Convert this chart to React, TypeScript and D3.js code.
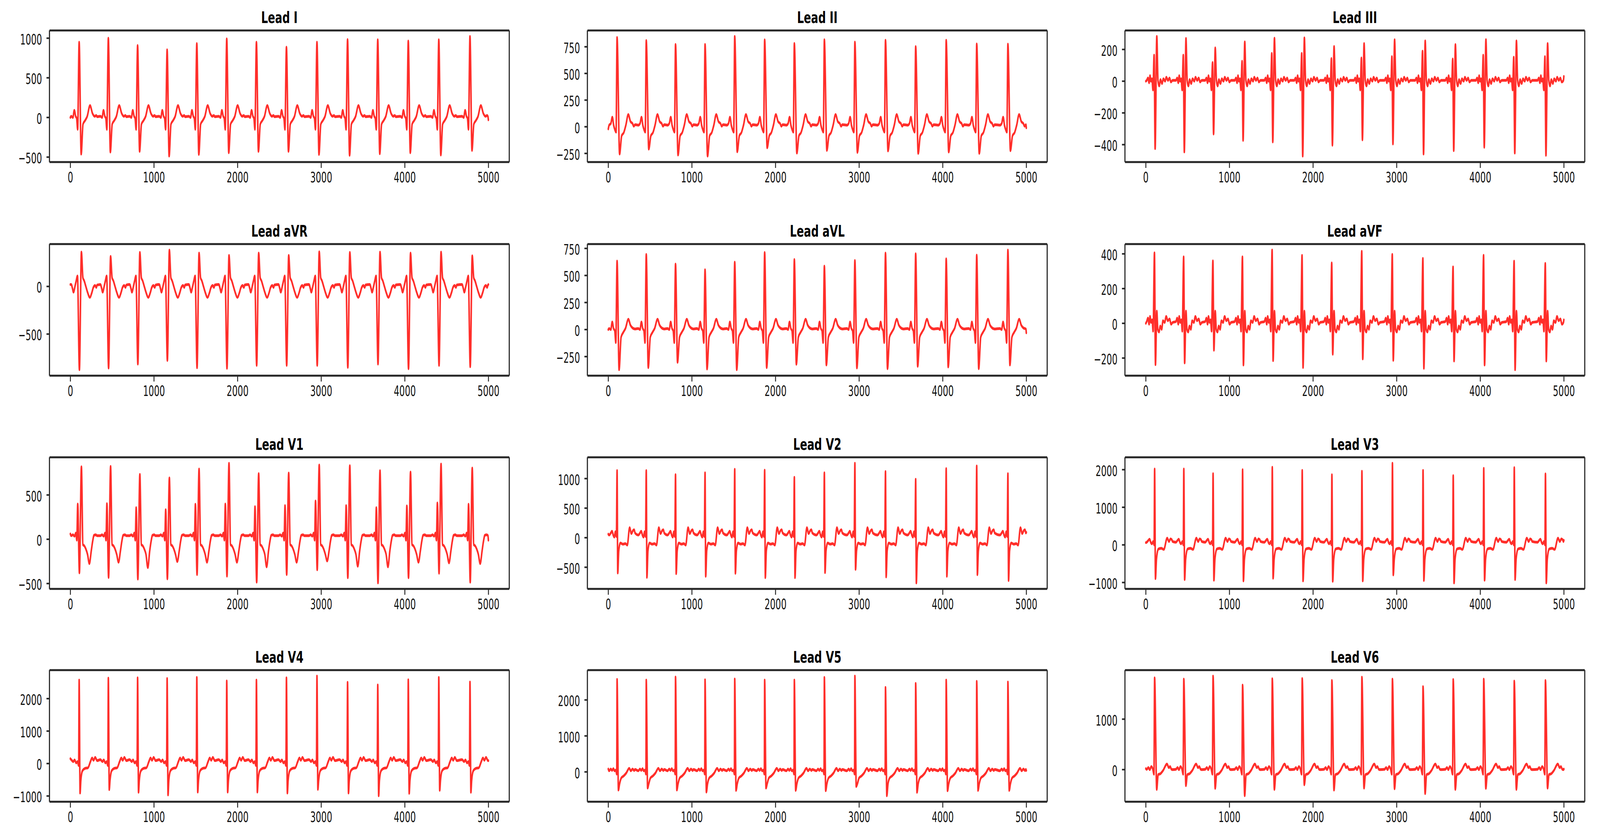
import * as d3 from "d3";
import { useMemo } from "react";

/* ------------------------------------------------------------------ */
/*  Shared data                                                        */
/* ------------------------------------------------------------------ */

const N_SAMPLES = 5000;
// sample index of each QRS complex (shared by all 12 leads)
const BEATS = [105, 454, 804, 1157, 1512, 1870, 2225, 2584, 2949, 3315, 3676, 4041, 4406, 4779];
const X_TICKS = [0, 1000, 2000, 3000, 4000, 5000];

type ShapePoint = [number, number | string];

/* Lead I ------------------------------------------------------------ */
const I_R = [950, 1000, 908, 854, 933, 992, 950, 887, 950, 983, 980, 965, 980, 1022];
const I_S = [-462, -437, -428, -487, -467, -445, -428, -428, -467, -478, -458, -445, -474, -416];
const I_SHAPE: ShapePoint[] = [[-95, 15], [-75, 0], [-58, 90], [-42, 15], [-30, -10], [-18, -150], [0, "R"], [24, "S"], [46, -85], [70, -40], [95, 10], [130, 150], [160, 50], [185, 15], [205, 25], [215, 10]];
const I_TICKS = [-500, 0, 500, 1000];
const I_EDGES = [0, -30];

/* Lead II ----------------------------------------------------------- */
const II_R = [837, 809, 772, 772, 847, 815, 781, 816, 794, 812, 752, 812, 777, 775];
const II_S = [-256, -210, -265, -275, -235, -197, -247, -222, -241, -227, -250, -237, -250, -225];
const II_SHAPE: ShapePoint[] = [[-95, 15], [-75, 30], [-57, 90], [-40, 10], [-25, -30], [-12, -50], [0, "R"], [30, "S"], [55, -85], [80, -55], [105, 15], [134, 115], [160, 50], [185, 30], [200, 5], [215, 20]];
const II_TICKS = [-250, 0, 250, 500, 750];
const II_EDGES = [-20, -10];

/* Lead III ---------------------------------------------------------- */
const III_r = [164, 164, 118, 126, 175, 175, 143, 147, 155, 189, 140, 164, 151, 155];
const III_S = [-425, -446, -333, -373, -383, -472, -404, -370, -396, -459, -438, -417, -453, -467];
const III_R = [282, 269, 210, 248, 271, 273, 219, 237, 261, 254, 231, 262, 254, 237];
const III_SHAPE: ShapePoint[] = [[-95, 5], [-80, 20], [-66, -10], [-55, 35], [-44, 0], [-32, 15], [-20, -55], [-6, "r"], [6, "S"], [26, "R"], [40, 5], [55, -30], [70, 10], [88, -15], [105, 15], [125, 0], [140, 25], [160, 5], [178, 20], [195, -5], [215, 5]];
const III_TICKS = [-400, -200, 0, 200];
const III_EDGES = [0, 30];

/* Lead aVR ---------------------------------------------------------- */
const AVR_S = [-874, -857, -815, -777, -854, -860, -829, -829, -829, -850, -815, -864, -829, -843];
const AVR_R = [361, 316, 358, 382, 350, 326, 350, 326, 364, 358, 361, 350, 361, 322];
const AVR_SHAPE: ShapePoint[] = [[-95, 20], [-80, -20], [-68, -60], [-50, 0], [-35, 60], [-20, 110], [3, "S"], [27, "R"], [45, 90], [60, 60], [80, 0], [100, -60], [128, -115], [150, -70], [170, -10], [190, 10], [205, -10], [215, 15]];
const AVR_TICKS = [-500, 0];
const AVR_EDGES = [20, 20];

/* Lead aVL ---------------------------------------------------------- */
const AVL_R = [633, 695, 605, 553, 623, 713, 648, 586, 639, 707, 701, 654, 688, 735];
const AVL_S = [-371, -352, -303, -365, -371, -352, -321, -328, -355, -362, -340, -346, -362, -328];
const AVL_SHAPE: ShapePoint[] = [[-95, 10], [-75, 0], [-58, 70], [-42, 10], [-28, -10], [-15, -120], [0, "R"], [24, "S"], [48, -70], [75, -25], [100, 10], [135, 95], [160, 40], [185, 15], [215, 5]];
const AVL_TICKS = [-250, 0, 250, 500, 750];
const AVL_EDGES = [0, -30];

/* Lead aVF ---------------------------------------------------------- */
const AVF_R = [406, 383, 360, 383, 422, 391, 348, 415, 397, 374, 325, 392, 358, 345];
const AVF_S = [-238, -228, -155, -240, -215, -254, -178, -205, -213, -259, -217, -240, -267, -217];
const AVF_SHAPE: ShapePoint[] = [[-95, 10], [-80, 30], [-66, -5], [-55, 40], [-42, 5], [-30, 20], [-18, -45], [-2, "R"], [10, "S"], [26, 70], [38, -35], [52, -50], [68, -15], [84, -35], [100, 15], [120, 5], [138, 40], [158, 15], [178, 25], [198, -5], [215, 5]];
const AVF_TICKS = [-200, 0, 200, 400];
const AVF_EDGES = [0, 20];

/* Lead V1 ----------------------------------------------------------- */
const V1_r = [398, 402, 357, 334, 395, 398, 368, 380, 432, 380, 357, 377, 410, 395];
const V1_S = [-380, -432, -450, -447, -399, -417, -485, -399, -345, -435, -493, -435, -384, -485];
const V1_R = [819, 823, 733, 693, 793, 858, 741, 748, 838, 831, 774, 759, 849, 804];
const V1_T = [-275, -260, -320, -252, -260, -260, -312, -260, -245, -305, -312, -260, -267, -275];
const V1_SHAPE: ShapePoint[] = [[-95, 40], [-75, 50], [-55, 35], [-40, 70], [-28, -10], [-17, "r"], [3, "S"], [27, "R"], [45, -60], [62, -75], [80, -110], [100, -170], [122, "T"], [145, -130], [162, -20], [178, 45], [200, 50], [215, 40]];
const V1_TICKS = [-500, 0, 500];
const V1_EDGES = [60, -10];

/* Lead V2 ----------------------------------------------------------- */
const V2_R = [1135, 1135, 1067, 1097, 1157, 1142, 1022, 1097, 1259, 1119, 989, 1169, 1214, 1083];
const V2_S = [-597, -671, -608, -653, -603, -676, -676, -590, -536, -664, -765, -653, -626, -725];
const V2_SHAPE: ShapePoint[] = [[-95, 45], [-75, 80], [-61, 110], [-45, 40], [-33, 10], [-20, 100], [-8, 20], [0, "R"], [8, "S"], [20, -220], [40, -90], [70, -110], [100, -100], [122, -125], [150, 170], [171, 70], [190, 120], [204, 135], [215, 80]];
const V2_TICKS = [-500, 0, 500, 1000];
const V2_EDGES = [60, 90];

/* Lead V3 ----------------------------------------------------------- */
const V3_R = [2018, 2018, 1894, 2000, 2064, 1982, 1865, 1957, 2170, 1982, 1841, 2035, 2053, 1887];
const V3_S = [-897, -922, -940, -958, -887, -958, -968, -958, -798, -947, -1011, -940, -922, -1011];
const V3_SHAPE: ShapePoint[] = [[-95, 70], [-75, 120], [-60, 150], [-45, 60], [-33, 30], [-18, 90], [-6, 0], [0, "R"], [10, "S"], [22, -380], [45, -110], [80, -90], [110, -120], [150, 180], [172, 90], [190, 160], [205, 140], [215, 90]];
const V3_TICKS = [-1000, 0, 1000, 2000];
const V3_EDGES = [60, 120];

/* Lead V4 ----------------------------------------------------------- */
const V4_R = [2571, 2633, 2641, 2620, 2653, 2543, 2571, 2641, 2694, 2502, 2420, 2580, 2653, 2510];
const V4_S = [-910, -804, -886, -968, -878, -878, -878, -910, -796, -910, -992, -919, -825, -886];
const V4_SHAPE: ShapePoint[] = [[-95, 120], [-70, 60], [-55, 110], [-35, 20], [-20, 60], [-6, -60], [0, "R"], [11, "S"], [20, -520], [40, -220], [70, -150], [105, -130], [135, 60], [155, 170], [172, 100], [192, 190], [215, 90]];
const V4_TICKS = [-1000, 0, 1000, 2000];
const V4_EDGES = [150, 90];

/* Lead V5 ----------------------------------------------------------- */
const V5_R = [2571, 2552, 2637, 2560, 2582, 2552, 2552, 2626, 2663, 2350, 2460, 2552, 2516, 2497];
const V5_S = [-504, -449, -504, -560, -515, -449, -515, -523, -405, -663, -567, -523, -515, -515];
const V5_SHAPE: ShapePoint[] = [[-95, 30], [-75, 80], [-60, 40], [-45, 90], [-30, 30], [-15, 50], [-4, -60], [0, "R"], [16, "S"], [30, -330], [50, -170], [80, -110], [110, -30], [145, 100], [165, 30], [185, 80], [205, 40], [215, 70]];
const V5_TICKS = [0, 1000, 2000];
const V5_EDGES = [80, 40];

/* Lead V6 ----------------------------------------------------------- */
const V6_R = [1819, 1793, 1853, 1676, 1801, 1806, 1767, 1833, 1793, 1644, 1785, 1793, 1754, 1767];
const V6_S = [-393, -319, -372, -518, -393, -301, -406, -367, -380, -476, -393, -372, -393, -367];
const V6_SHAPE: ShapePoint[] = [[-95, 5], [-75, 40], [-58, 0], [-40, 60], [-22, 10], [-8, -90], [0, "R"], [25, "S"], [42, -100], [70, -80], [100, -20], [148, 110], [170, 40], [185, 60], [200, 10], [215, 0]];
const V6_TICKS = [0, 1000];
const V6_EDGES = [20, 10];

type Lead = {
  name: string;
  shape: ShapePoint[];
  slots: Record<string, number[]>;
  ticks: number[];
  edges: number[];
};

// row-major, 4 rows x 3 columns
const LEADS: Lead[] = [
  { name: "Lead I", shape: I_SHAPE, slots: { R: I_R, S: I_S }, ticks: I_TICKS, edges: I_EDGES },
  { name: "Lead II", shape: II_SHAPE, slots: { R: II_R, S: II_S }, ticks: II_TICKS, edges: II_EDGES },
  { name: "Lead III", shape: III_SHAPE, slots: { r: III_r, S: III_S, R: III_R }, ticks: III_TICKS, edges: III_EDGES },
  { name: "Lead aVR", shape: AVR_SHAPE, slots: { R: AVR_R, S: AVR_S }, ticks: AVR_TICKS, edges: AVR_EDGES },
  { name: "Lead aVL", shape: AVL_SHAPE, slots: { R: AVL_R, S: AVL_S }, ticks: AVL_TICKS, edges: AVL_EDGES },
  { name: "Lead aVF", shape: AVF_SHAPE, slots: { R: AVF_R, S: AVF_S }, ticks: AVF_TICKS, edges: AVF_EDGES },
  { name: "Lead V1", shape: V1_SHAPE, slots: { r: V1_r, S: V1_S, R: V1_R, T: V1_T }, ticks: V1_TICKS, edges: V1_EDGES },
  { name: "Lead V2", shape: V2_SHAPE, slots: { R: V2_R, S: V2_S }, ticks: V2_TICKS, edges: V2_EDGES },
  { name: "Lead V3", shape: V3_SHAPE, slots: { R: V3_R, S: V3_S }, ticks: V3_TICKS, edges: V3_EDGES },
  { name: "Lead V4", shape: V4_SHAPE, slots: { R: V4_R, S: V4_S }, ticks: V4_TICKS, edges: V4_EDGES },
  { name: "Lead V5", shape: V5_SHAPE, slots: { R: V5_R, S: V5_S }, ticks: V5_TICKS, edges: V5_EDGES },
  { name: "Lead V6", shape: V6_SHAPE, slots: { R: V6_R, S: V6_S }, ticks: V6_TICKS, edges: V6_EDGES },
];

/* ------------------------------------------------------------------ */
/*  Layout / theme                                                     */
/* ------------------------------------------------------------------ */

const W = 4301;
const H = 2151;
const COL_LEFT = [133, 1579, 3024];
const ROW_TOP = [78, 625, 1171, 1716];
const AX_W = 1236;
const AX_H = 337;

const RED = "#ff2e2a";
const SPINE = "#262626";
const FONT = "DejaVu Sans, sans-serif";
// the source figure is squeezed horizontally: text and strokes are narrow
const LINE_SX = 0.6;
const TICK_SX = 0.61;
const TITLE_SX = 0.7;
const TICK_SIZE = 38;
const TITLE_SIZE = 41;

const fmt = (v: number) => String(v).replace("-", "\u2212");

function buildPoints(lead: Lead): [number, number][] {
  const pts: [number, number][] = [[0, lead.edges[0]]];
  BEATS.forEach((b, i) => {
    lead.shape.forEach(([off, v]) => {
      const y = typeof v === "number" ? v : lead.slots[v][i];
      pts.push([b + off, y]);
    });
  });
  pts.push([N_SAMPLES - 1, lead.edges[1]]);
  return pts;
}

function Panel({ lead, left, top }: { lead: Lead; left: number; top: number }) {
  const pts = useMemo(() => buildPoints(lead), [lead]);

  const last = N_SAMPLES - 1;
  const x = d3
    .scaleLinear()
    .domain([-0.05 * last, last * 1.05])
    .range([left, left + AX_W]);

  const [lo, hi] = d3.extent(pts, (d) => d[1]) as [number, number];
  const pad = (hi - lo) * 0.05;
  const y = d3
    .scaleLinear()
    .domain([lo - pad, hi + pad])
    .range([top + AX_H, top]);

  const line = d3
    .line<[number, number]>()
    .x((d) => x(d[0]) / LINE_SX)
    .y((d) => y(d[1]))
    .curve(d3.curveMonotoneX);

  const bottom = top + AX_H;
  const right = left + AX_W;

  return (
    <g>
      {/* trace */}
      <g transform={`scale(${LINE_SX},1)`}>
        <path
          d={line(pts) ?? ""}
          fill="none"
          stroke={RED}
          strokeWidth={7}
          strokeLinejoin="round"
          strokeLinecap="round"
        />
      </g>

      {/* spines */}
      <line x1={left} x2={right} y1={top} y2={top} stroke={SPINE} strokeWidth={5} />
      <line x1={left} x2={right} y1={bottom} y2={bottom} stroke={SPINE} strokeWidth={5} />
      <line x1={left} x2={left} y1={top} y2={bottom} stroke={SPINE} strokeWidth={3} />
      <line x1={right} x2={right} y1={top} y2={bottom} stroke={SPINE} strokeWidth={3} />

      {/* x ticks */}
      {X_TICKS.map((t) => (
        <g key={`x${t}`}>
          <line x1={x(t)} x2={x(t)} y1={bottom} y2={bottom + 15} stroke={SPINE} strokeWidth={2.5} />
          <text
            transform={`translate(${x(t)},${bottom + 52}) scale(${TICK_SX},1)`}
            textAnchor="middle"
            fontFamily={FONT}
            fontSize={TICK_SIZE}
            fill="#111"
          >
            {fmt(t)}
          </text>
        </g>
      ))}

      {/* y ticks */}
      {lead.ticks.map((t) => (
        <g key={`y${t}`}>
          <line x1={left - 8} x2={left} y1={y(t)} y2={y(t)} stroke={SPINE} strokeWidth={4} />
          <text
            transform={`translate(${left - 20},${y(t) + 16}) scale(${TICK_SX},1)`}
            textAnchor="end"
            fontFamily={FONT}
            fontSize={TICK_SIZE}
            fill="#111"
          >
            {fmt(t)}
          </text>
        </g>
      ))}

      {/* title */}
      <text
        transform={`translate(${left + AX_W / 2},${top - 19}) scale(${TITLE_SX},1)`}
        textAnchor="middle"
        fontFamily={FONT}
        fontWeight="bold"
        fontSize={TITLE_SIZE}
        fill="#000"
      >
        {lead.name}
      </text>
    </g>
  );
}

export default function App() {
  return (
    <svg
      viewBox={`0 0 ${W} ${H}`}
      preserveAspectRatio="none"
      style={{
        position: "fixed",
        left: 0,
        top: 0,
        width: "100vw",
        height: "100vh",
        background: "#fff",
        display: "block",
      }}
    >
      <rect width={W} height={H} fill="#fff" />
      {LEADS.map((lead, i) => (
        <Panel
          key={lead.name}
          lead={lead}
          left={COL_LEFT[i % 3]}
          top={ROW_TOP[Math.floor(i / 3)]}
        />
      ))}
    </svg>
  );
}
